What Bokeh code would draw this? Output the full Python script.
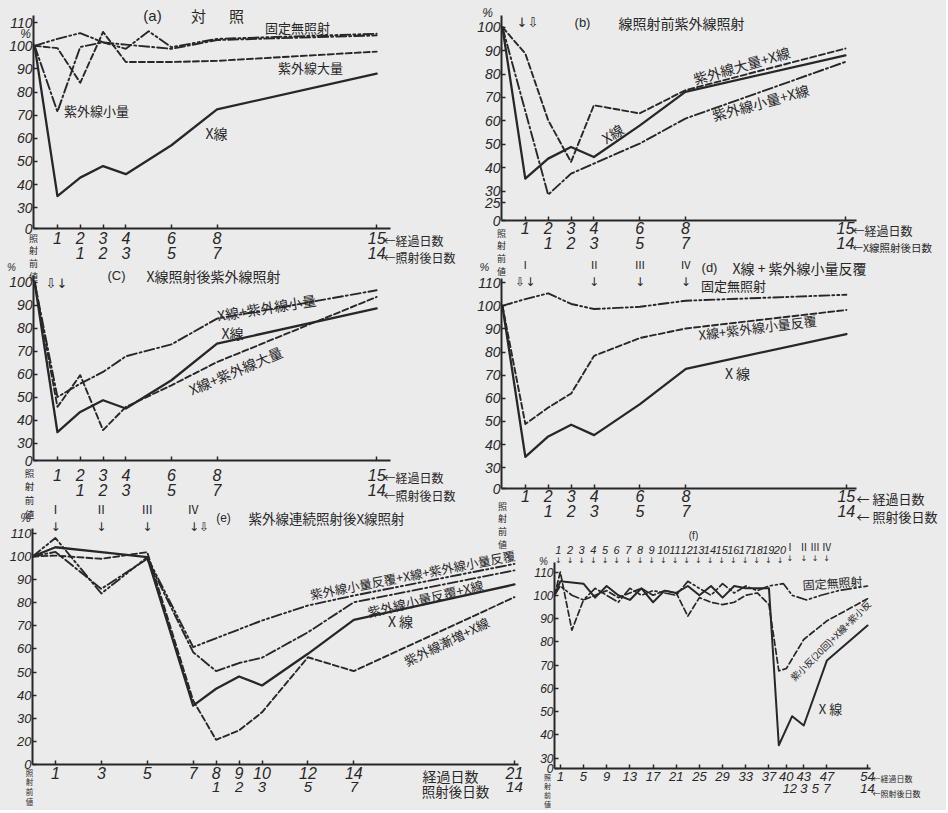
import math
from bokeh.plotting import figure
from bokeh.models import Range1d, LinearAxis, FixedTicker, NumeralTickFormatter, Label, GridBox
from bokeh.embed import file_html
from bokeh.resources import INLINE

INK = "#272727"
BG = "#ebebeb"
NUM = "Liberation Sans Narrow, Liberation Sans"
JP = "Noto Sans CJK JP"
ARW = "DejaVu Sans"

SOLID = "solid"
DASH = "6 3"
DASHDOT = "10 3 2 3"
DASHDOT2 = "10 3 2 3 2 3"

PAGE_W, PAGE_H = 946, 810

# ---------------- data ----------------
YTICKS_110 = [30, 40, 50, 60, 70, 80, 90, 100, 110]
YTICKS_B = [25, 30, 40, 50, 60, 70, 80, 90, 100]
YTICKS_C = [30, 40, 50, 60, 70, 80, 90, 100]
YTICKS_E = [20, 30, 40, 50, 60, 70, 80, 90, 100, 110]

XTICKS_15 = [1, 2, 3, 4, 6, 8, 15]
XTICKS2_15 = [2, 3, 4, 6, 8, 15]
XLAB2_15 = ["1", "2", "3", "5", "7", "14"]

# (a) control
A_DAYS = [0, 1, 2, 3, 4, 6, 8, 15]
A_XRAY = [100, 35, 43, 48, 44.5, 57, 72.5, 88]
A_UV_LARGE = [100, 99, 84, 106, 93, 93, 93.5, 97.5]
A_UV_SMALL = [100, 71.5, 99.5, 101.5, 100.5, 98.7, 102.5, 104.5]
A_FIXED_DAYS = [0, 1, 2, 3, 4, 5, 6, 8, 15]
A_FIXED = [100, 103, 105.5, 101.5, 98.7, 106.3, 99.4, 103, 105.2]

# (b) UV before X-ray
B_DAYS = [0, 1, 2, 3, 4, 6, 8, 15]
B_XRAY = [100, 35.4, 43.9, 48.9, 44.6, 58, 72.4, 88]
B_UVL_X = [100, 88.8, 60.3, 42.5, 66.7, 63.2, 73.1, 90.9]
B_UVS_DAYS = [0, 2, 3, 4, 6, 8, 15]
B_UVS_X = [100, 28.5, 37.5, 41.8, 50.3, 61, 85.2]

# (c) UV after X-ray
C_DAYS = [0, 1, 2, 3, 4, 6, 8, 15]
C_XRAY = [100, 34.8, 43.6, 48.7, 45.1, 57.4, 73.3, 88.6]
C_X_UVS = [100, 50.1, 55.9, 61, 67.8, 73, 84.2, 96.5]
C_X_UVL = [100, 45.8, 59.6, 35.7, 45.8, 55.2, 65.3, 93.6]

# (d) X-ray + repeated small UV
D_DAYS = [0, 1, 2, 3, 4, 6, 8, 15]
D_FIXED = [100, 102.9, 105.4, 100.8, 98.6, 99.6, 102.2, 104.8]
D_X_UVS_REP = [100, 48.9, 56, 62.1, 78.4, 86.1, 90.2, 98.2]
D_XRAY = [100, 34.7, 43.5, 48.6, 44.1, 57.5, 72.7, 87.8]
D_ROMAN = ["Ⅰ", "Ⅱ", "Ⅲ", "Ⅳ"]
D_ROMAN_DAYS = [1, 4, 6, 8]

# (e) continuous UV then X-ray
E_DAYS = [0, 1, 3, 5, 7, 8, 9, 10, 12, 14, 21]
E_XRAY = [100, 104, 101.9, 99.7, 35.5, 42.8, 48.1, 44.2, 57.9, 72.6, 87.9]
E_UV_INC_X = [100, 100.4, 99, 101.9, 37.7, 20.7, 24.7, 32.6, 56.4, 50.4, 82.4]
E_UVS_X = [100, 102, 86, 99, 58.6, 50.4, 53.9, 56.2, 67.2, 80.2, 94]
E_UXU_DAYS = [0, 1, 3, 5, 7, 10, 12, 14, 21]
E_UVS_X_UVS = [100, 108, 84, 99.7, 60.8, 72.3, 78.8, 83.1, 96.8]
E_XTICKS = [1, 3, 5, 7, 8, 9, 10, 12, 14, 21]
E_XTICKS2 = [8, 9, 10, 12, 14, 21]
E_XLAB2 = ["1", "2", "3", "5", "7", "14"]
E_ROMAN = ["Ⅰ", "Ⅱ", "Ⅲ", "Ⅳ"]
E_ROMAN_DAYS = [1, 3, 5, 7]

# (f) 20 small UV doses, then X-ray, then small UV
F_FIXED_DAYS = [0, 1, 3, 5, 7, 9, 11, 13, 15, 17, 19, 21, 23, 25, 27, 29, 31, 33, 35, 37,
                39.5, 41, 43.5, 46, 49, 54]
F_FIXED = [100, 104, 100, 98, 103, 100, 97, 103, 100, 102, 101, 100, 106, 103, 100, 105, 101, 104, 102, 104,
           105, 100, 98, 100, 102, 104]
F_XRAY_DAYS = [0, 1, 5, 7, 9, 11, 13, 15, 17, 19, 21, 23, 25, 27, 29, 31, 33, 35, 37,
               38.7, 41, 43, 47, 54]
F_XRAY = [100, 106, 105, 99, 104, 100, 98, 103, 97, 102, 101, 104, 100, 104, 99, 104, 103, 103, 103,
          35.5, 48, 44, 72, 87]
F_UVS_DAYS = [0, 1, 3, 5, 7, 9, 11, 13, 15, 17, 19, 21, 23, 25, 27, 29, 31, 33, 35, 37,
              38.7, 40, 43, 47, 54]
F_UVS = [100, 110, 85, 98, 100, 102, 99, 101, 103, 100, 102, 101, 91, 99, 97, 96, 97, 100, 101, 96,
         67.5, 68.5, 81, 89, 98.5]
F_XTICKS = [1, 5, 9, 13, 17, 21, 25, 29, 33, 37, 40, 43, 47, 54]
F_XTICKS2 = [40, 41.2, 43, 45, 47, 54]
F_XLAB2 = ["1", "2", "3", "5", "7", "14"]
F_DOSE_NO = ["1", "2", "3", "4", "5", "6", "7", "8", "9", "10", "11", "12", "13", "14", "15",
             "16", "17", "18", "19", "20"]
F_DOSE_DAYS = [1, 3, 5, 7, 9, 11, 13, 15, 17, 19, 21, 23, 25, 27, 29, 31, 33, 35, 37, 39]
F_ROMAN = ["Ⅰ", "Ⅱ", "Ⅲ", "Ⅳ"]
F_ROMAN_DAYS = [40.7, 43.1, 45, 47]


# ---------------- text overlay (whole page, transparent) ----------------
ov = figure(width=PAGE_W, height=PAGE_H, x_range=Range1d(0, PAGE_W), y_range=Range1d(PAGE_H, 0),
            min_border=0, min_border_left=0, min_border_right=0, min_border_top=0, min_border_bottom=0,
            x_axis_type=None, y_axis_type=None, frame_align=False,
            output_backend="svg", toolbar_location=None,
            background_fill_color=None, border_fill_color=None, outline_line_color=None)


def T(px, py, text, size=13, angle=0.0, align="center", font=JP, style="normal",
      baseline="middle", lh=1.2):
    ov.add_layout(Label(x=px, y=py, text=text, text_font=font,
                        text_font_size=f"{size}px", text_font_style=style,
                        text_color=INK, text_align=align, text_baseline=baseline,
                        angle=math.radians(angle), text_line_height=lh))


# ---------------- panels ----------------
class Panel:
    def __init__(self, rect, frame, x0, sx, y0, sy):
        l, t, r, b = rect
        L, T_, R, B = frame
        self.L, self.B, self.x0, self.sx, self.y0, self.sy = L, B, x0, sx, y0, sy
        self.p = figure(width=r - l, height=b - t,
                        x_range=Range1d(x0, x0 + (R - L) / sx),
                        y_range=Range1d(y0, y0 + (B - T_) / sy),
                        min_border_left=L - l, min_border_right=r - R,
                        min_border_top=T_ - t, min_border_bottom=b - B,
                        x_axis_type=None, y_axis_type=None, frame_align=False,
                        output_backend="svg", toolbar_location=None,
                        background_fill_color=None, border_fill_color=None,
                        outline_line_color=None)

    def px(self, xdata):
        return self.L + (xdata - self.x0) * self.sx

    def line(self, xs, ys, dash, width=1.9):
        self.p.line(x=xs, y=ys, line_color=INK, line_width=width, line_dash=dash,
                    line_join="round", line_cap="round")

    def axes(self, yticks, xticks, xticks2, xlab2, st1, st2, fy=14, fx=16, fx2=None):
        common = dict(major_tick_line_color=INK, major_tick_line_width=1.5,
                      minor_tick_line_color=None, major_label_text_color=INK,
                      major_label_text_font=NUM, major_label_text_font_style="italic")
        y0 = self.y0
        yax = LinearAxis(ticker=FixedTicker(ticks=[y0] + list(yticks)),
                         formatter=NumeralTickFormatter(format="0"),
                         major_label_overrides={y0: "0"},
                         major_tick_in=4, major_tick_out=0, major_label_standoff=1,
                         major_label_text_font_size=f"{fy}px",
                         axis_line_color=INK, axis_line_width=2, **common)
        self.p.add_layout(yax, "left")
        xax = LinearAxis(ticker=FixedTicker(ticks=list(xticks)),
                         formatter=NumeralTickFormatter(format="0"),
                         major_tick_in=4, major_tick_out=0, major_label_standoff=st1,
                         major_label_text_font_size=f"{fx}px",
                         axis_line_color=INK, axis_line_width=2, **common)
        self.p.add_layout(xax, "below")
        xax2 = LinearAxis(ticker=FixedTicker(ticks=list(xticks2)),
                          major_label_overrides=dict(zip(xticks2, xlab2)),
                          major_tick_in=0, major_tick_out=0, major_label_standoff=st2,
                          major_label_text_font_size=f"{fx2 or fx}px",
                          axis_line_color=None, **common)
        xax2.major_tick_line_color = None
        self.p.add_layout(xax2, "below")


VERT = "照\n射\n前\n値"

# ---------------- (a) ----------------
Pa = Panel((0, 0, 474, 270), (33, 15, 390, 228), -0.05, 22.8, 21, 2.3125)
Pa.axes(YTICKS_110, XTICKS_15, XTICKS2_15, XLAB2_15, st1=3, st2=0)
Pa.line(A_FIXED_DAYS, A_FIXED, DASHDOT2)
Pa.line(A_DAYS, A_UV_SMALL, DASHDOT)
Pa.line(A_DAYS, A_UV_LARGE, DASH)
Pa.line(A_DAYS, A_XRAY, SOLID, 2.3)
T(152, 15, "(a)", 15, font="Liberation Sans")
T(198, 15, "対", 15)
T(236, 15, "照", 15)
T(25, 33, "%", 12, font=NUM, style="italic")
T(297, 27, "固定無照射", 13)
T(310, 67, "紫外線大量", 13)
T(96, 110, "紫外線小量", 13)
T(216, 132, "X線", 14)
T(33, 231, VERT, 9, baseline="top", lh=0.98)
T(383, 240, "←経過日数", 12, align="left")
T(383, 257, "←照射後日数", 12, align="left")

# ---------------- (b) ----------------
Pb = Panel((474, 0, 946, 262), (500, 15, 856, 220), -0.04, 22.93, 17.5, 2.343)
Pb.axes(YTICKS_B, XTICKS_15, XTICKS2_15, XLAB2_15, st1=1, st2=0)
Pb.line(B_DAYS, B_UVL_X, DASH)
Pb.line(B_UVS_DAYS, B_UVS_X, DASHDOT)
Pb.line(B_DAYS, B_XRAY, SOLID, 2.3)
T(487, 12, "%", 12, font=NUM, style="italic")
T(527, 22, "↓⇩", 13, font=ARW)
T(582, 22, "(b)", 13, font="Liberation Sans")
T(681, 22, "線照射前紫外線照射", 14)
T(741, 65, "紫外線大量+X線", 14, angle=16)
T(760, 102, "紫外線小量+X線", 14, angle=15.5)
T(612, 133, "X線", 14, angle=32)
T(501, 226, VERT, 9, baseline="top", lh=0.98)
T(852, 230, "←経過日数", 12, align="left")
T(852, 247, "←X線照射後日数", 10.5, align="left")

# ---------------- (c) ----------------
Pc = Panel((0, 262, 474, 510), (33, 275, 390, 460), -0.05, 22.8, 22.5, 2.3)
Pc.axes(YTICKS_C, XTICKS_15, XTICKS2_15, XLAB2_15, st1=8, st2=0)
Pc.line(C_DAYS, C_X_UVS, DASHDOT)
Pc.line(C_DAYS, C_X_UVL, DASH)
Pc.line(C_DAYS, C_XRAY, SOLID, 2.3)
T(11, 267, "%", 10, font=NUM, style="italic")
T(56, 283, "⇩↓", 13, font=ARW)
T(116, 275, "(C)", 13, font="Liberation Sans")
T(213, 275, "X線照射後紫外線照射", 14)
T(266, 307, "X線+紫外線小量", 14, angle=9)
T(232, 332, "X線", 14)
T(235, 370, "X線+紫外線大量", 14, angle=23)
T(29, 465, VERT, 9.5, baseline="top", lh=0.98)
T(383, 477, "←経過日数", 12, align="left")
T(383, 495, "←照射後日数", 12, align="left")

# ---------------- (d) ----------------
Pd = Panel((474, 258, 946, 535), (501, 278, 856, 488), -0.04, 22.93, 21, 2.3125)
Pd.axes(YTICKS_110, XTICKS_15, XTICKS2_15, XLAB2_15, st1=1, st2=0)
Pd.line(D_DAYS, D_FIXED, DASHDOT2)
Pd.line(D_DAYS, D_X_UVS_REP, DASH)
Pd.line(D_DAYS, D_XRAY, SOLID, 2.3)
for r, d in zip(D_ROMAN, D_ROMAN_DAYS):
    T(Pd.px(d), 263, r, 11)
    T(Pd.px(d), 281, "⇩↓" if d == 1 else "↓", 12, font=ARW)
T(484, 266, "%", 11, font=NUM, style="italic")
T(709, 267, "(d)", 13, font="Liberation Sans")
T(799, 267, "X線 + 紫外線小量反覆", 14)
T(733, 285, "固定無照射", 13)
T(757, 327, "X線+紫外線小量反覆", 13, angle=7)
T(737, 372, "X 線", 14)
T(502, 499, VERT, 9, baseline="top", lh=0.98)
T(856, 498, "← 経過日数", 13, align="left")
T(856, 516, "← 照射後日数", 13, align="left")

# ---------------- (e) ----------------
Pe = Panel((0, 500, 530, 810), (32, 528, 518, 764), 0.0, 22.95, 10, 2.311)
Pe.axes(YTICKS_E, E_XTICKS, E_XTICKS2, E_XLAB2, st1=2, st2=0, fy=13, fx=16, fx2=15)
Pe.line(E_UXU_DAYS, E_UVS_X_UVS, DASHDOT2)
Pe.line(E_DAYS, E_UVS_X, DASHDOT)
Pe.line(E_DAYS, E_UV_INC_X, DASH)
Pe.line(E_DAYS, E_XRAY, SOLID, 2.3)
for r, d in zip(E_ROMAN, E_ROMAN_DAYS):
    T(Pe.px(d), 508, r, 12)
    T(Pe.px(d) + (6 if d == 7 else 0), 526, "↓⇩" if d == 7 else "↓", 12, font=ARW)
T(25, 517, "%", 12, font=NUM, style="italic")
T(223, 517, "(e)", 12, font="Liberation Sans")
T(326, 517, "紫外線連続照射後X線照射", 13.5)
T(412, 574, "紫外線小量反覆+X線+紫外線小量反覆", 12.5, angle=11)
T(425, 598, "紫外線小量反覆+X線", 13, angle=13.5)
T(400, 620, "X 線", 14)
T(446, 641, "紫外線漸増+X線", 13, angle=26)
T(29, 766, VERT, 7.5, baseline="top", lh=0.9)
T(450, 775, "経過日数", 14)
T(455, 790, "照射後日数", 13.5)

# ---------------- (f) ----------------
Pf = Panel((530, 524, 946, 810), (552, 562, 870, 768), 0.0, 5.833, 25.5, 2.325)
Pf.axes(YTICKS_110, F_XTICKS, F_XTICKS2, F_XLAB2, st1=3, st2=0, fy=12, fx=13)
Pf.line(F_FIXED_DAYS, F_FIXED, DASHDOT2, 1.7)
Pf.line(F_UVS_DAYS, F_UVS, DASH, 1.7)
Pf.line(F_XRAY_DAYS, F_XRAY, SOLID, 2.0)
for n, d in zip(F_DOSE_NO, F_DOSE_DAYS):
    T(Pf.px(d), 549, n, 11, font=NUM, style="italic")
    T(Pf.px(d), 560, "↓", 8, font=ARW)
for r, d in zip(F_ROMAN, F_ROMAN_DAYS):
    T(Pf.px(d), 546, r, 10)
    T(Pf.px(d), 558, "↓", 8, font=ARW)
T(693, 535, "(f)", 10, font="Liberation Sans")
T(543, 561, "%", 10, font=NUM, style="italic")
T(832, 582, "固定無照射", 12, angle=4)
T(830, 640, "紫小反(20回)+X線+紫小反", 9.5, angle=45)
T(830, 708, "X 線", 13)
T(547, 771, VERT, 7, baseline="top", lh=0.9)
T(872, 778, "←経過日数", 8, align="left")
T(872, 793, "←照射後日数", 8, align="left")

grid = GridBox(children=[(Pa.p, 0, 0, 3, 1), (Pb.p, 0, 1, 2, 2), (Pc.p, 2, 0, 3, 1),
                         (Pd.p, 1, 1, 6, 2), (Pe.p, 4, 0, 4, 2), (Pf.p, 6, 2, 2, 1),
                         (ov, 0, 0, 8, 3)],
               rows=["258px", "4px", "8px", "230px", "10px", "14px", "11px", "275px"],
               cols=["474px", "56px", "416px"], spacing=0,
               styles={"background-color": BG})

open("out.html", "w").write(file_html(grid, INLINE))
